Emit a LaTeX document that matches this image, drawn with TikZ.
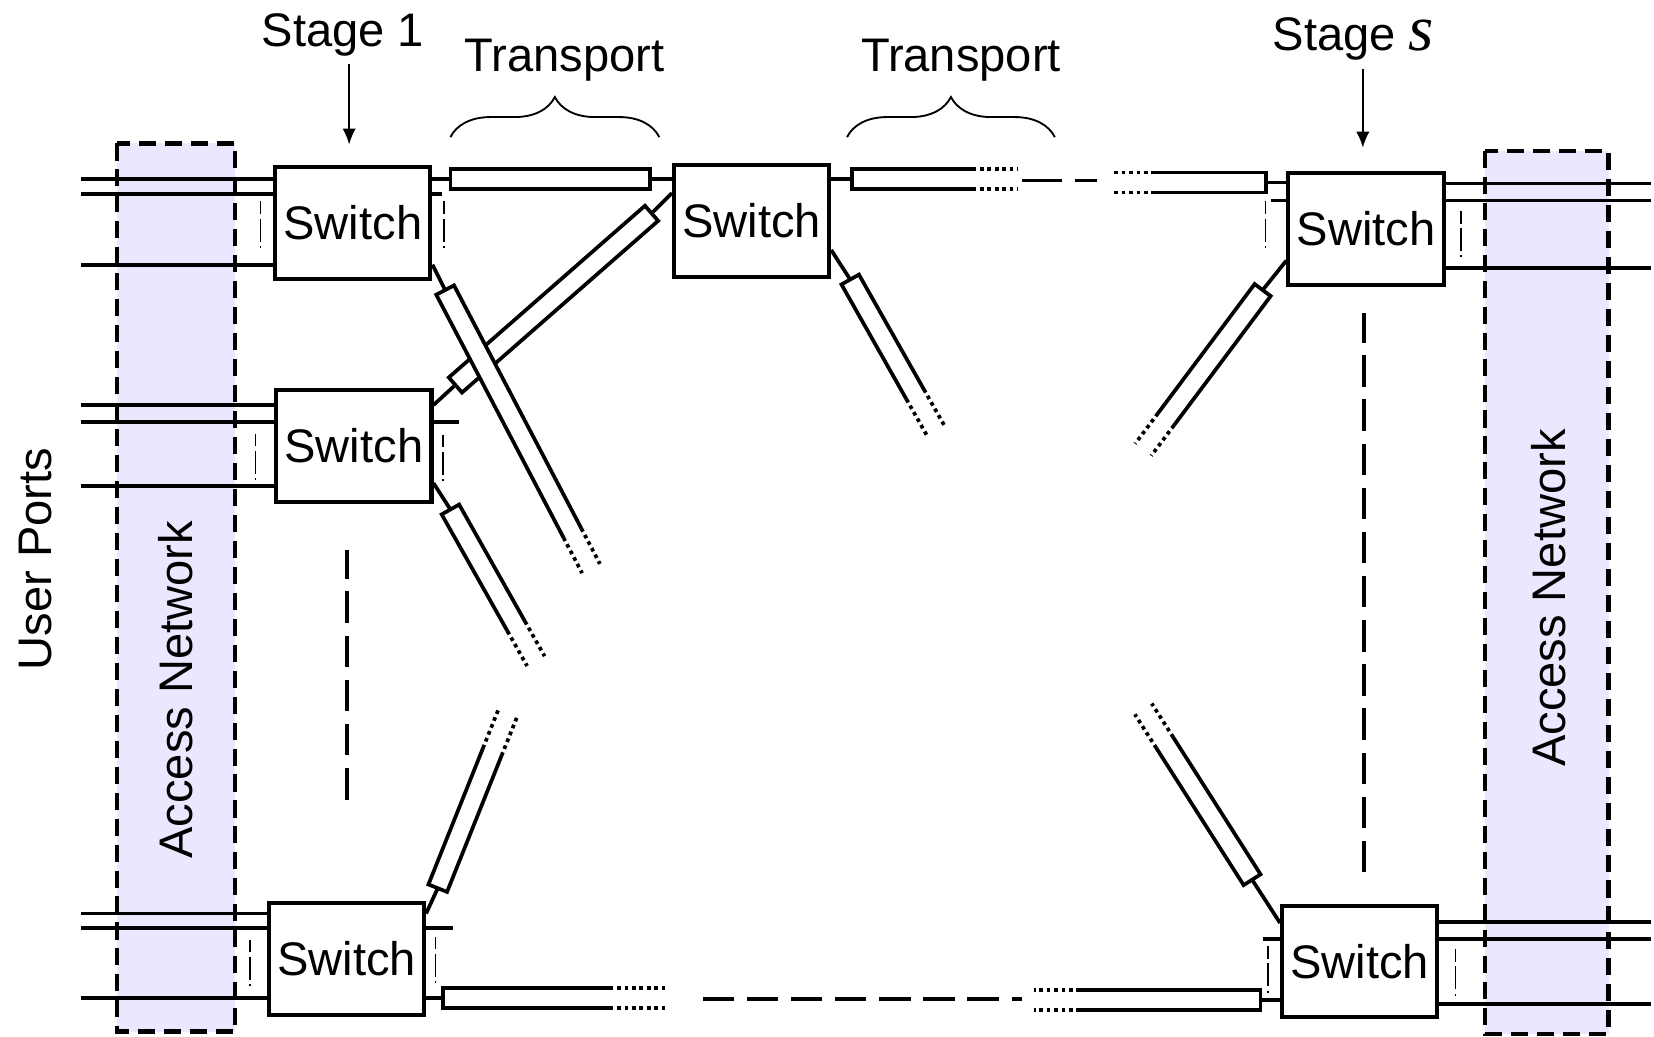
\documentclass[tikz,border=0pt]{standalone}
\usepackage{fontspec}
\setmainfont{Liberation Sans}
\newfontfamily\timesfont{Liberation Serif}
\usetikzlibrary{calc}
\usetikzlibrary{arrows.meta,decorations.pathreplacing}
\definecolor{accessfill}{RGB}{236,231,255}

% transport link with one open (fading) end: start, angle, solid length, dotted length
\newcommand{\opentube}[4]{%
  \begin{scope}[shift={#1}, rotate=#2]
    \fill[white] (0,-9.5) rectangle (#3,9.5);
    \draw[wire] (#3,-9.5) -- (0,-9.5) -- (0,9.5) -- (#3,9.5);
    \draw[dotend] (#3,-9.5) -- +(#4,0) (#3,9.5) -- +(#4,0);
  \end{scope}}

\begin{document}
\begin{tikzpicture}[x=0.01cm, y=-0.01cm,
    every node/.style={font=\fontsize{12.7}{15}\selectfont},
    wire/.style={line width=1pt},
    dotend/.style={line width=1pt, dash pattern=on 1pt off 1pt},
    gapline/.style={line width=1pt, dash pattern=on 8.5pt off 3.4pt},
    portmark/.style={line width=0.35pt, dash pattern=on 3.4pt off 1.2pt on 6.2pt off 1.2pt on 0.5pt off 20pt},
    switchbox/.style={draw, line width=1.1pt, fill=white, minimum width=1.47cm, minimum height=1.06cm, inner sep=0pt},
    tubebox/.style={draw, line width=1pt, fill=white, minimum height=0.19cm, inner sep=0pt},
    access/.style={draw, fill=accessfill, line width=1.2pt, dash pattern=on 4.6pt off 2.4pt},
    caption/.style={anchor=base, inner sep=2pt},
    pointer/.style={line width=0.5pt, -{Latex[length=4.3pt,width=3.6pt]}},
    bracket/.style={line width=0.5pt, decorate, decoration={brace, amplitude=0.38cm}}]
    \useasboundingbox (0,0) rectangle (1568,983);

    % access networks
    \draw[access] (111,136) rectangle (223,978);
    \draw[access] (1408,143) rectangle (1525,980);
    \node[rotate=90] (accleft) at (167,654) {Access Network};
    \node[rotate=90] (accright) at (1468,567) {Access Network};
    \node[rotate=90] (users) at (34,530) {User Ports};

    % switches
    \node[switchbox] (a1) at (334.5,211.5) {Switch};
    \node[switchbox] (a2) at (335.5,422.5) {Switch};
    \node[switchbox] (a3) at (328.5,909) {Switch};
    \node[switchbox] (b1) at (712.5,209.5) {Switch};
    \node[switchbox] (c1) at (1295,217) {Switch};
    \node[switchbox] (c3) at (1289,911.5) {Switch};

    % user ports, stage 1
    \draw[wire] (77,170) -- (a1.west |- 0,170);
    \draw[wire] (77,184) -- (a1.west |- 0,184);
    \draw[wire] (77,251) -- (a1.west |- 0,251);
    \draw[wire] (77,384) -- (a2.west |- 0,384);
    \draw[wire] (77,400) -- (a2.west |- 0,400);
    \draw[wire] (77,461) -- (a2.west |- 0,461);
    \draw[wire] (77,866) -- (a3.west |- 0,866);
    \draw[wire] (77,880) -- (a3.west |- 0,880);
    \draw[wire] (77,946) -- (a3.west |- 0,946);
    \draw[wire] (a1.east |- 0,184) -- +(9,0);
    \draw[wire] (a2.east |- 0,400) -- +(24,0);
    \draw[wire] (a3.east |- 0,880) -- +(25,0);

    % user ports, stage s
    \draw[wire] (c1.east |- 0,174) -- (1565,174);
    \draw[wire] (c1.east |- 0,190) -- (1565,190);
    \draw[wire] (c1.east |- 0,254) -- (1565,254);
    \draw[wire] (c3.east |- 0,874) -- (1565,874);
    \draw[wire] (c3.east |- 0,890) -- (1565,890);
    \draw[wire] (c3.east |- 0,952) -- (1565,952);
    \draw[wire] (c1.west |- 0,190) -- +(-15,0);
    \draw[wire] (c3.west |- 0,890) -- +(-16,0);

    % more ports in between
    \draw[portmark] (247,191) -- +(0,44);
    \draw[portmark] (421,191) -- +(0,44);
    \draw[portmark] (242,411) -- +(0,44);
    \draw[portmark] (420,412) -- +(0,44);
    \draw[portmark] (237,891) -- +(0,44);
    \draw[portmark] (413,888) -- +(0,44);
    \draw[portmark] (1200,191) -- +(0,44);
    \draw[portmark] (1385,200) -- +(0,44);
    \draw[portmark] (1202,897) -- +(0,44);
    \draw[portmark] (1380,900) -- +(0,44);

    % closed transport links
    \node[tubebox, minimum width=1.89cm] (t12) at (521.5,170) {};
    \draw[wire] (a1.east |- t12) -- (t12.west);
    \draw[wire] (t12.east) -- (b1.west |- t12);
    \node[tubebox, minimum width=2.47cm, rotate=41.2] (t22) at (524.7,283.6) {};
    \draw[wire] (a2.east |- 0,384) -- (t22.west);
    \draw[wire] (t22.east) -- (b1.west |- 0,183);

    % open transport links
    \coordinate (ta1) at (422,275);
    \coordinate (ta2) at (427,483);
    \coordinate (ta3) at (415,842);
    \coordinate (ta4) at (420,946);
    \coordinate (tb1) at (806,265);
    \coordinate (tb2) at (808,170);
    \coordinate (tc1) at (1197,275);
    \coordinate (tc2) at (1200,173);
    \coordinate (tc3) at (1187,834);
    \coordinate (tc4) at (1195,948);
    \draw[wire] (a1.east |- 0,251) -- (ta1);
    \draw[wire] (a2.east |- 0,458) -- (ta2);
    \draw[wire] (a3.east |- 0,866) -- (ta3);
    \draw[wire] (a3.east |- 0,946) -- (ta4);
    \draw[wire] (b1.east |- 0,237) -- (tb1);
    \draw[wire] (b1.east |- 0,170) -- (tb2);
    \draw[wire] (c1.west |- 0,247) -- (tc1);
    \draw[wire] (c1.west |- 0,173) -- (tc2);
    \draw[wire] (c3.west |- 0,875) -- (tc3);
    \draw[wire] (c3.west |- 0,948) -- (tc4);
    \opentube{(ta1)}{-62.35}{260}{38}
    \opentube{(ta2)}{-60.6}{127}{38}
    \opentube{(ta3)}{68.2}{139}{42}
    \opentube{(ta4)}{0}{158}{54}
    \opentube{(tb1)}{-60.5}{125}{40}
    \opentube{(tb2)}{0}{114}{43}
    \opentube{(tc1)}{-126.8}{153}{36}
    \opentube{(tc2)}{180}{105}{40}
    \opentube{(tc3)}{122.5}{154}{38}
    \opentube{(tc4)}{180}{171}{44}

    % skipped stages and switches
    \draw[gapline, dash pattern=on 10.8pt off 3.4pt] (969,171) -- (1040,171);
    \draw[gapline] (666,947) -- (969,947);
    \draw[gapline] (329,758) -- (329,521);
    \draw[gapline] (1293,827) -- (1293,297);

    % labels on top
    \node[caption] (stage1) at (325,44) {Stage 1};
    \node[caption] (stages) at (1283,48) {Stage {\timesfont\itshape\fontsize{17.5}{20}\selectfont s}};
    \coordinate (stage1in) at (331,137);
    \coordinate (stagesin) at (1292,140);
    \draw[pointer] (stage1.south -| stage1in) -- (stage1in);
    \draw[pointer] (stages.south -| stagesin) -- (stagesin);
    \node[caption] (trans1) at (535,68) {Transport};
    \node[caption] (trans2) at (911,68) {Transport};
    \draw[bracket] (427,130) -- (625,130);
    \draw[bracket] (803,130) -- (1000,130);
\end{tikzpicture}
\end{document}
